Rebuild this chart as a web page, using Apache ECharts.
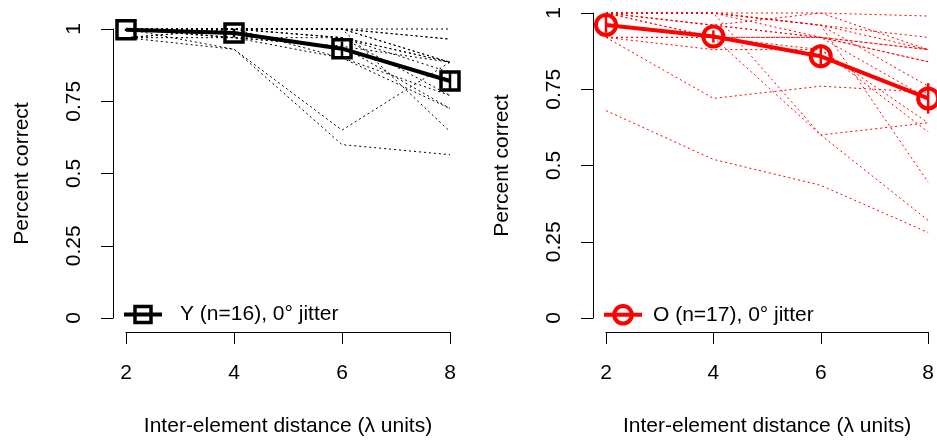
<!DOCTYPE html>
<html>
<head>
<meta charset="utf-8">
<script src="https://cdn.jsdelivr.net/npm/echarts@6/dist/echarts.min.js"></script>
<style>html,body{margin:0;padding:0;background:#fff}#c{width:937px;height:442px}</style>
</head>
<body>
<div id="c"></div>
<script>
// ---- data ----
const distances = [2, 4, 6, 8];
const yTicks = [0, 0.25, 0.5, 0.75, 1];

const youngName = 'Y (n=16), 0° jitter';
const youngMean = [0.997, 0.986, 0.932, 0.82];
const youngErr  = [0.004, 0.015, 0.025, 0.03];
const youngSubjects = [
  [1, 1, 1, 1],
  [1, 1, 1, 0.965],
  [0.97, 1, 1, 0.965],
  [1, 1, 1, 0.885],
  [1, 1, 0.97, 0.885],
  [1, 0.97, 0.97, 0.885],
  [1, 1, 0.97, 0.85],
  [0.97, 0.97, 0.94, 0.885],
  [1, 1, 1, 0.885],
  [1, 1, 0.97, 0.77],
  [1, 0.97, 0.94, 0.725],
  [0.97, 1, 0.9, 0.725],
  [1, 0.97, 0.9, 0.77],
  [1, 1, 1, 0.645],
  [1, 0.93, 0.65, 0.885],
  [0.97, 0.93, 0.60, 0.565]
];

const oldName = 'O (n=17), 0° jitter';
const oldMean = [0.961, 0.923, 0.858, 0.72];
const oldErr  = [0.026, 0.02, 0.039, 0.05];
const oldSubjects = [
  [1, 0.96, 1, 0.99],
  [1, 1, 1, 0.88],
  [1, 1, 0.96, 0.92],
  [1, 1, 0.96, 0.88],
  [1, 0.96, 0.92, 0.84],
  [1, 0.96, 0.92, 0.88],
  [1, 1, 0.92, 0.84],
  [0.92, 0.92, 0.88, 0.64],
  [0.92, 0.88, 0.88, 0.61],
  [1, 0.92, 0.92, 0.72],
  [0.92, 0.72, 0.76, 0.74],
  [0.68, 0.52, 0.435, 0.28],
  [1, 0.92, 0.6, 0.64],
  [1, 1, 0.6, 0.32],
  [1, 1, 0.96, 0.445],
  [1, 1, 0.96, 0.76],
  [0.92, 0.92, 0.92, 0.88]
];

// ---- chart ----
const FONT = 'Liberation Sans, Arial, sans-serif';
const FS = 21;
const chart = echarts.init(document.getElementById('c'), null, {renderer: 'canvas'});

function xAxisCfg(i) {
  return {
    gridIndex: i, type: 'value', min: 2, max: 8, interval: 2, offset: 14,
    axisLine: {show: true, onZero: false, lineStyle: {color: '#000', width: 1}},
    axisTick: {show: true, length: 12, lineStyle: {color: '#000', width: 1}},
    axisLabel: {color: '#000', fontSize: FS, fontFamily: FONT, margin: 31},
    splitLine: {show: false},
    name: 'Inter-element distance (λ units)', nameLocation: 'middle', nameGap: 84,
    nameTextStyle: {color: '#000', fontSize: FS, fontFamily: FONT}
  };
}
function yAxisCfg(i) {
  return {
    gridIndex: i, type: 'value', min: 0, max: 1, interval: 0.25, offset: 13,
    axisLine: {show: true, onZero: false, lineStyle: {color: '#000', width: 1}},
    axisTick: {show: true, length: 12, lineStyle: {color: '#000', width: 1}},
    axisLabel: {color: '#000', fontSize: FS, fontFamily: FONT, margin: 28, rotate: 90,
      formatter: v => String(v)},
    splitLine: {show: false},
    name: 'Percent correct', nameLocation: 'middle', nameGap: 80,
    nameTextStyle: {color: '#000', fontSize: FS, fontFamily: FONT}
  };
}

function subjectSeries(subjects, gi, color) {
  return subjects.map((s, k) => ({
    type: 'line', name: 'subj' + gi + '_' + k, xAxisIndex: gi, yAxisIndex: gi,
    data: distances.map((d, j) => [d, s[j]]), symbol: 'none', silent: true, clip: false,
    lineStyle: {color: color, width: 1, type: [2, 3]}, z: 1, animation: false
  }));
}
function errSeries(mean, err, gi, color, w) {
  return {
    type: 'custom', xAxisIndex: gi, yAxisIndex: gi, silent: true, clip: false, z: 4,
    data: distances.map((d, j) => [d, mean[j] - err[j], mean[j] + err[j]]),
    renderItem: (params, api) => {
      const a = api.coord([api.value(0), api.value(1)]);
      const b = api.coord([api.value(0), api.value(2)]);
      return {type: 'line', shape: {x1: a[0], y1: a[1], x2: b[0], y2: b[1]},
        style: {stroke: color, lineWidth: w}};
    }, animation: false
  };
}

const option = {
  backgroundColor: '#fff',
  animation: false,
  grid: [
    {left: 126, top: 29, width: 324, height: 294},
    {left: 606, top: 13, width: 324, height: 310}
  ],
  xAxis: [xAxisCfg(0), xAxisCfg(1)],
  yAxis: [yAxisCfg(0), yAxisCfg(1)],
  legend: [
    {data: [youngName], left: 117, top: 299, itemWidth: 38, itemHeight: 20, itemGap: 0,
      lineStyle: {width: 4}, itemStyle: {borderWidth: 3.5},
      textStyle: {color: '#000', fontSize: FS, fontFamily: FONT, padding: [0, 0, 0, 13]}},
    {data: [oldName], left: 597, top: 299, itemWidth: 38, itemHeight: 22, itemGap: 0,
      lineStyle: {width: 4}, itemStyle: {borderWidth: 4},
      textStyle: {color: '#000', fontSize: FS, fontFamily: FONT, padding: [0, 0, 0, 6]}}
  ],
  series: [
    ...subjectSeries(youngSubjects, 0, '#000'),
    ...subjectSeries(oldSubjects, 1, '#ff0000'),
    {
      type: 'line', name: youngName, xAxisIndex: 0, yAxisIndex: 0, clip: false, z: 5,
      data: distances.map((d, j) => [d, youngMean[j]]),
      symbol: 'rect', symbolSize: 18,
      lineStyle: {color: '#000', width: 4},
      itemStyle: {color: 'rgba(255,255,255,0)', borderColor: '#000', borderWidth: 3.5}
    },
    errSeries(youngMean, youngErr, 0, '#000', 2.5),
    {
      type: 'line', name: oldName, xAxisIndex: 1, yAxisIndex: 1, clip: false, z: 5,
      data: distances.map((d, j) => [d, oldMean[j]]),
      symbol: 'circle', symbolSize: 20,
      lineStyle: {color: '#ff0000', width: 4},
      itemStyle: {color: 'rgba(255,255,255,0)', borderColor: '#ff0000', borderWidth: 4}
    },
    errSeries(oldMean, oldErr, 1, '#ff0000', 2.5)
  ]
};
chart.setOption(option);
</script>
</body>
</html>
